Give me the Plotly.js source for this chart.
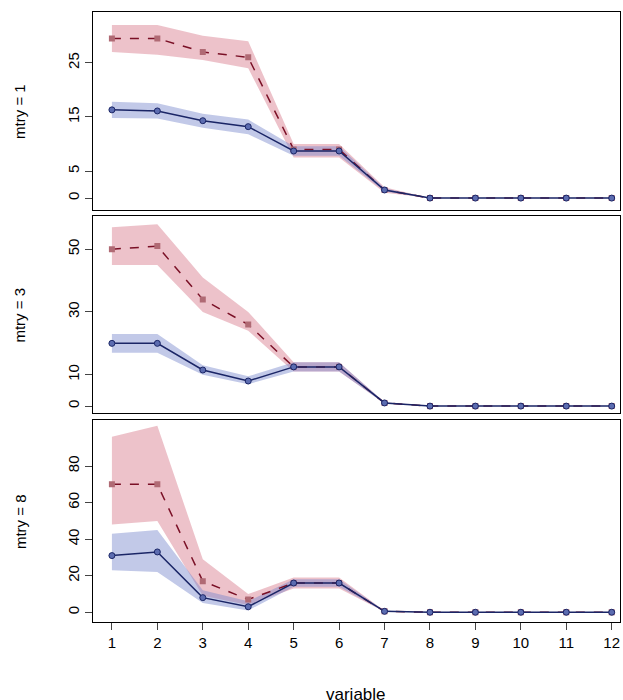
<!DOCTYPE html>
<html><head><script src="https://cdn.plot.ly/plotly-3.0.1.min.js"></script></head>
<body style="margin:0">
<div id="chart" style="width:623px;height:700px"></div>
<script>
const variables = [1,2,3,4,5,6,7,8,9,10,11,12]

// mtry = 1
const red1 = [29.5,29.5,27,26,9,9,1.5,0,0,0,0,0]
const red1Lo = [27,26.5,25.5,24,7.5,7.5,1,0,0,0,0,0]
const red1Hi = [32,32,30,29,10,10,2,0,0,0,0,0]
const blue1 = [16.3,16.1,14.3,13.2,8.7,8.7,1.5,0,0,0,0,0]
const blue1Lo = [14.8,14.7,13,11.8,7.8,7.8,1.2,0,0,0,0,0]
const blue1Hi = [17.8,17.5,15.6,14.5,9.6,9.6,1.8,0,0,0,0,0]
// mtry = 3
const red3 = [50,51,34,26,12.5,12.5,1,0,0,0,0,0]
const red3Lo = [45,45,30,24,11,11,0.8,0,0,0,0,0]
const red3Hi = [57,58,41,30,14,14,1.2,0,0,0,0,0]
const blue3 = [20,20,11.5,8,12.5,12.5,1,0,0,0,0,0]
const blue3Lo = [17,17,10,7,11,11,0.8,0,0,0,0,0]
const blue3Hi = [23,23,13,9.5,14,14,1.2,0,0,0,0,0]
// mtry = 8
const red8 = [70,70,17,7,16,16,0.5,0,0,0,0,0]
const red8Lo = [48,50,9,4,13,13,0.3,0,0,0,0,0]
const red8Hi = [96,102,29,10,19,19,0.8,0,0,0,0,0]
const blue8 = [31,33,8,3,16,16,0.5,0,0,0,0,0]
const blue8Lo = [23,22,5,1,14,14,0.3,0,0,0,0,0]
const blue8Hi = [43,45,12,6,18,18,0.8,0,0,0,0,0]

const panels = [
  {name:'mtry = 1', red:red1, redLo:red1Lo, redHi:red1Hi, blue:blue1, blueLo:blue1Lo, blueHi:blue1Hi, range:[-2.2,34.4], ticks:[0,5,15,25], dom:[0.7,0.983]},
  {name:'mtry = 3', red:red3, redLo:red3Lo, redHi:red3Hi, blue:blue3, blueLo:blue3Lo, blueHi:blue3Hi, range:[-2.2,60.5], ticks:[0,10,30,50], dom:[0.41,0.691]},
  {name:'mtry = 8', red:red8, redLo:red8Lo, redHi:red8Hi, blue:blue8, blueLo:blue8Lo, blueHi:blue8Hi, range:[-5.5,105.2], ticks:[0,20,40,60,80], dom:[0.111,0.4]}
]

const traces = []
const layout = {
  width:623, height:700, showlegend:false,
  margin:{l:0,r:0,t:0,b:0},
  paper_bgcolor:'white', plot_bgcolor:'white',
  font:{family:'Liberation Sans, Arial', size:15, color:'black'},
  annotations:[{text:'variable', x:0.572, y:-0.008, xref:'paper', yref:'paper', xanchor:'center', yanchor:'bottom', showarrow:false, font:{size:17}}]
}

panels.forEach((p, i) => {
  const n = i + 1
  const xa = n === 1 ? 'x' : 'x' + n
  const ya = n === 1 ? 'y' : 'y' + n
  const band = (lo, hi, color) => {
    traces.push({x:variables, y:hi, xaxis:xa, yaxis:ya, mode:'lines', line:{width:0}, hoverinfo:'skip'})
    traces.push({x:variables, y:lo, xaxis:xa, yaxis:ya, mode:'lines', line:{width:0}, fill:'tonexty', fillcolor:color, hoverinfo:'skip'})
  }
  band(p.redLo, p.redHi, 'rgba(214,120,138,0.45)')
  band(p.blueLo, p.blueHi, 'rgba(120,135,205,0.45)')
  traces.push({x:variables, y:p.red, xaxis:xa, yaxis:ya, mode:'lines+markers',
    line:{color:'#7a1026', width:1.5, dash:'dash'},
    marker:{symbol:'square', size:6, color:'#b06a74'}})
  traces.push({x:variables, y:p.blue, xaxis:xa, yaxis:ya, mode:'lines+markers',
    line:{color:'#1a2566', width:1.5},
    marker:{symbol:'circle', size:6, color:'#5c6cb0', line:{color:'#1a2566', width:1}}})

  layout['xaxis' + (n === 1 ? '' : n)] = {
    domain:[0.149,0.995], range:[0.58,12.18], anchor:ya,
    showline:true, mirror:true, linecolor:'black', linewidth:1,
    showgrid:false, zeroline:false,
    tickvals: n === 3 ? variables : [], ticks: n === 3 ? 'outside' : '', ticklen:7,
    showticklabels: n === 3
  }
  layout['yaxis' + (n === 1 ? '' : n)] = {
    domain:p.dom, range:p.range, anchor:xa,
    showline:true, mirror:true, linecolor:'black', linewidth:1,
    showgrid:false, zeroline:false,
    tickvals:p.ticks, ticks:'outside', ticklen:7, tickangle:-90
  }
  layout.annotations.push({text:p.name, xref:'paper', yref:'paper', x:0.032, y:(p.dom[0]+p.dom[1])/2,
    textangle:-90, showarrow:false, xanchor:'center', yanchor:'middle', font:{size:15}})
})

Plotly.newPlot('chart', traces, layout, {displayModeBar:false})
</script>
</body></html>
